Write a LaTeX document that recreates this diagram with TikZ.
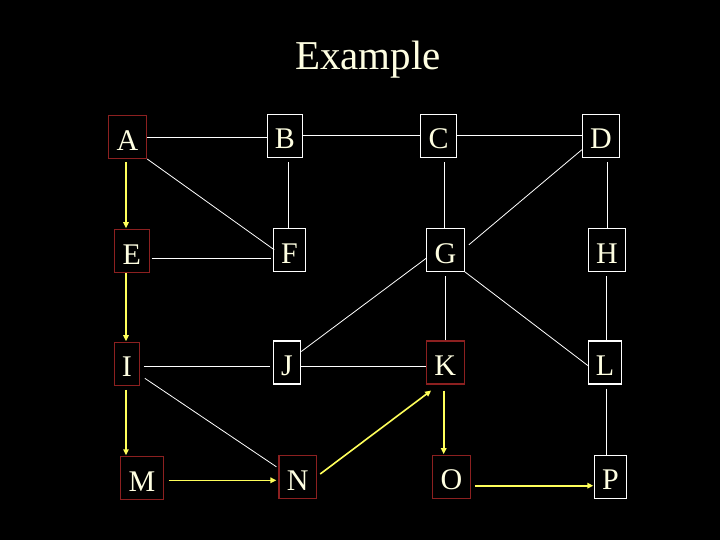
\documentclass[tikz,border=0pt]{standalone}
\usepackage{fontspec}
\setmainfont{Liberation Serif}
\usetikzlibrary{arrows.meta,calc}
\definecolor{boxred}{RGB}{140,32,32}
\definecolor{cream}{RGB}{255,255,226}
\definecolor{ayellow}{RGB}{255,255,90}
\tikzset{
  box/.style={draw, line width=1.1pt, text=cream, font=\fontsize{30}{30}\selectfont,
    inner xsep=1pt, inner ysep=0pt, text height=26.4pt, text depth=0pt, minimum height=43pt},
  redbox/.style={box, draw=boxred},
  whitebox/.style={box, draw=white},
  wline/.style={draw=white, line width=0.8pt},
  yarrow/.style={draw=ayellow, line width=1.6pt, -{Triangle[length=6pt,width=5.5pt]}}
}
\begin{document}
\begin{tikzpicture}[x=1pt,y=-1pt]
\fill[black] (0,0) rectangle (720,540);
\useasboundingbox (0,0) rectangle (720,540);
\node[text=cream, font=\fontsize{41}{41}\selectfont, anchor=base] (title) at (368,69.3) {Example};
% row 1
\node[redbox, minimum width=38.4pt] (A) at (127.5,137) {A};
\node[whitebox, minimum width=35pt] (B) at (284.8,135.8) {B};
\node[whitebox, minimum width=36pt] (C) at (438.7,135.8) {C};
\node[whitebox, minimum width=37.4pt] (D) at (601,135.8) {D};
% row 2
\node[redbox, minimum width=34.7pt] (E) at (131.7,250.8) {E};
\node[whitebox, minimum width=32.4pt] (F) at (289.5,249.8) {F};
\node[whitebox, minimum width=37.6pt] (G) at (445.5,249.8) {G};
\node[whitebox, minimum width=37.4pt] (H) at (607,249.8) {H};
% row 3
\node[redbox, minimum width=25pt] (I) at (126.8,363.7) {I};
\node[whitebox, minimum width=27.4pt] (J) at (287,362.5) {J};
\node[redbox, minimum width=38pt] (K) at (445.3,362.5) {K};
\node[whitebox, minimum width=33.4pt] (L) at (605,362.5) {L};
% row 4
\node[redbox, minimum width=43.4pt] (M) at (142,477.8) {M};
\node[redbox, minimum width=37.7pt] (N) at (297.8,476.8) {N};
\node[redbox, minimum width=38.4pt] (O) at (451.5,476.7) {O};
\node[whitebox, minimum width=32.4pt] (P) at (610.5,476.7) {P};
% white connectors
\draw[wline] (A.east) -- (A.east -| B.west);
\draw[wline] (B.east) -- (B.east -| C.west);
\draw[wline] (C.east) -- (C.east -| D.west);
\draw[wline, shorten <=2pt, shorten >=2pt] ([yshift=-7.5pt]E.east) -- ([yshift=-7.5pt]E.east -| F.west);
\draw[wline, shorten <=4pt, shorten >=3pt] ([yshift=-2.3pt]I.east) -- ([yshift=-2.3pt]I.east -| J.west);
\draw[wline] ([yshift=-3.5pt]J.east) -- ([yshift=-3.5pt]J.east -| K.west);
\draw[wline, shorten >=4pt] ([xshift=-1pt]F.north) -- ([xshift=-1pt]F.north |- B.south);
\draw[wline, shorten >=4pt] ([xshift=-1pt]G.north) -- ([xshift=-1pt]G.north |- C.south);
\draw[wline, shorten >=4pt] (H.north) -- (H.north |- D.south);
\draw[wline, shorten >=4pt] (K.north) -- (K.north |- G.south);
\draw[wline, shorten >=4pt] ([xshift=1pt]L.north) -- ([xshift=1pt]L.north |- H.south);
\draw[wline, shorten <=4pt] ([xshift=1pt]L.south) -- ([xshift=1pt]L.south |- P.north);
\draw[wline] (A.south east) -- ([xshift=1.5pt]F.west);
\draw[wline] ([yshift=-14pt]D.west) -- ([xshift=4pt,yshift=5pt]G.east);
\draw[wline] ([yshift=11pt]J.east) -- ([yshift=-8.5pt]G.west);
\draw[wline] (G.south east) -- ([yshift=-3pt]L.west);
\draw[wline] ([xshift=5pt,yshift=-14.6pt]I.east) -- ([xshift=-2pt,yshift=10pt]N.west);
% yellow arrows
\draw[yarrow, shorten <=3pt, shorten >=0.5pt] ([xshift=-1.5pt]A.south) -- ([xshift=-1.5pt]A.south |- E.north);
\draw[yarrow, shorten >=0.5pt] ([xshift=-0.8pt]I.north |- E.south) -- ([xshift=-0.8pt]I.north);
\draw[yarrow, shorten <=4pt, shorten >=0.5pt] ([xshift=-0.8pt]I.south) -- ([xshift=-0.8pt]I.south |- M.north);
\draw[yarrow, shorten <=4.5pt, shorten >=2pt] ([yshift=-2.5pt]M.east) -- ([yshift=-2.5pt]M.east -| N.west);
\draw[yarrow] ([xshift=3pt,yshift=2.8pt]N.east) -- ([xshift=5.4pt,yshift=-6pt]K.south west);
\draw[yarrow, shorten <=6pt, shorten >=0.5pt] ([xshift=-1.6pt]K.south) -- ([xshift=-1.6pt]K.south |- O.north);
\draw[yarrow, shorten <=3.5pt, shorten >=0.5pt] ([yshift=-9pt]O.east) -- ([yshift=-9pt]O.east -| P.west);
\end{tikzpicture}
\end{document}
